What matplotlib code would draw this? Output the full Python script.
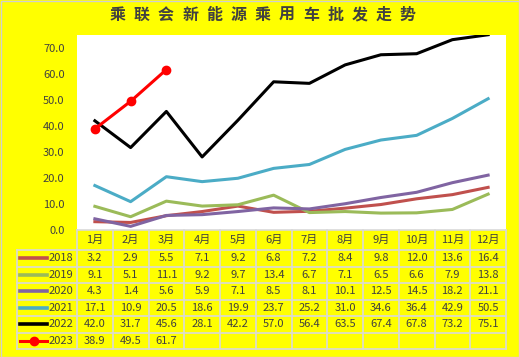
import matplotlib
matplotlib.use('Agg')
import matplotlib.pyplot as plt
from matplotlib.patches import Rectangle

plt.rcParams['font.family'] = ['Noto Sans CJK SC', 'DejaVu Sans']

title = '乘联会新能源乘用车批发走势'
months = ['1月', '2月', '3月', '4月', '5月', '6月', '7月', '8月', '9月', '10月', '11月', '12月']
years = ['2018', '2019', '2020', '2021', '2022', '2023']
s2018 = [3.2, 2.9, 5.5, 7.1, 9.2, 6.8, 7.2, 8.4, 9.8, 12.0, 13.6, 16.4]
s2019 = [9.1, 5.1, 11.1, 9.2, 9.7, 13.4, 6.7, 7.1, 6.5, 6.6, 7.9, 13.8]
s2020 = [4.3, 1.4, 5.6, 5.9, 7.1, 8.5, 8.1, 10.1, 12.5, 14.5, 18.2, 21.1]
s2021 = [17.1, 10.9, 20.5, 18.6, 19.9, 23.7, 25.2, 31.0, 34.6, 36.4, 42.9, 50.5]
s2022 = [42.0, 31.7, 45.6, 28.1, 42.2, 57.0, 56.4, 63.5, 67.4, 67.8, 73.2, 75.1]
s2023 = [38.9, 49.5, 61.7]
series = [s2018, s2019, s2020, s2021, s2022, s2023]
colors = ['#C0504D', '#9BBB59', '#8064A2', '#4BACC6', '#000000', '#FF0000']

W, H = 519, 357
txt = '#404040'
grid = '#D9D9D9'

fig = plt.figure(figsize=(W / 100, H / 100), dpi=100, facecolor='#FFFF00')


def box(x0, y0, x1, y1):
    # pixel box (top-left origin) -> figure fraction
    return [x0 / W, 1 - y1 / H, (x1 - x0) / W, (y1 - y0) / H]


# line chart
ax = fig.add_axes(box(77, 35, 506, 230))
ax.set_facecolor('white')
for name, vals, c in zip(years, series, colors):
    xs = list(range(len(vals)))
    if name == '2023':
        ax.plot(xs, vals, color=c, lw=2.2, marker='o', ms=6, zorder=5)
    else:
        ax.plot(xs, vals, color=c, lw=2.2)
ax.set_xlim(-0.5, 11.5)
ax.set_ylim(0, 75)
ax.set_yticks(range(0, 80, 10))
ax.set_yticklabels(['{:.1f}'.format(v) for v in range(0, 80, 10)])
ax.tick_params(axis='y', length=0, pad=9, labelsize=8, labelcolor=txt)
ax.set_xticks([])
for s in ax.spines.values():
    s.set_visible(False)

# data table under the chart
tx = fig.add_axes(box(0, 0, W, H))
tx.set_xlim(0, W)
tx.set_ylim(H, 0)
tx.axis('off')
tx.patch.set_alpha(0)

left, x0, x1 = 17, 77, 506
cw = (x1 - x0) / 12
hy0, hy1 = 230, 250
rh = 16.5

for j, m in enumerate(months):
    tx.text(x0 + cw * (j + 0.5), (hy0 + hy1) / 2, m, ha='center', va='center',
            fontsize=8, color=txt)

for k, (name, vals, c) in enumerate(zip(years, series, colors)):
    yc = hy1 + rh * (k + 0.5)
    if name == '2023':
        tx.plot([20, 47], [yc, yc], color=c, lw=2.2)
        tx.plot([33.5], [yc], color=c, marker='o', ms=6)
    else:
        tx.plot([20, 47], [yc, yc], color=c, lw=2.6)
    tx.text(49, yc, name, ha='left', va='center', fontsize=8, color=txt)
    for j, v in enumerate(vals):
        tx.text(x0 + cw * (j + 0.5), yc, '{:.1f}'.format(v), ha='center', va='center',
                fontsize=8, color=txt)

# grid lines of the table
bottom = hy1 + rh * 6
tx.plot([x0, x1], [hy0, hy0], color=grid, lw=1.2)
for k in range(7):
    y = hy1 + rh * k
    tx.plot([left, x1], [y, y], color=grid, lw=1.2)
for j in range(13):
    x = x0 + cw * j
    tx.plot([x, x], [hy0, bottom], color=grid, lw=1.2)
tx.plot([left, left], [hy1, bottom], color=grid, lw=1.2)

# outer frame
tx.add_patch(Rectangle((0.5, 0.5), W - 1, H - 1, fill=False, ec='#D0D0D0', lw=1))

# title, letter-spaced
pitch = 24.2
for i, ch in enumerate(title):
    tx.text(117.5 + pitch * i, 15, ch, ha='center', va='center',
            fontsize=11.5, fontweight='bold', color=txt)

fig.savefig('out.png', dpi=100, facecolor=fig.get_facecolor())
